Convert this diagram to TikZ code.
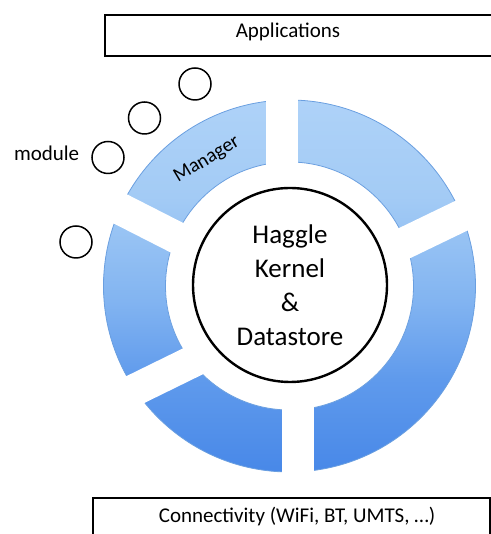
\documentclass[tikz,border=0pt]{standalone}
\usepackage{fontspec}
\setmainfont{Carlito}
\usepackage{xcolor}
\usepackage{tikz}
\usetikzlibrary{positioning}
\definecolor{ringtop}{HTML}{AED2F8}
\definecolor{ringup}{HTML}{A3CBF5}
\definecolor{ringmid}{HTML}{82B4F1}
\definecolor{ringlow}{HTML}{5F9AEC}
\definecolor{ringbot}{HTML}{4888E8}
\definecolor{ringedge}{HTML}{6A9FE0}
\pgfdeclareverticalshading{ringshade}{100bp}{color(0bp)=(ringbot); color(25bp)=(ringbot);
  color(37.5bp)=(ringlow); color(48bp)=(ringmid); color(62bp)=(ringup);
  color(75bp)=(ringtop); color(100bp)=(ringtop)}

\begin{document}
\begin{tikzpicture}[x=0.5pt, y=0.5pt,
  layer/.style={draw, line width=1.2pt, inner sep=0pt, anchor=north west},
  module/.style={draw, circle, line width=0.75pt, minimum size=16pt, inner sep=0pt},
  gap/.style={draw=white, line width=16pt},
  lbl/.style={font=\fontsize{10.5}{12}\selectfont},
]
  \clip (0,0) rectangle (491,534);

  % layers above and below
  \node[layer, minimum width=213pt, minimum height=20.5pt] (apps) at (104,520) {};
  \node[lbl] (appslbl) at (288,502) {Applications};
  \node[layer, minimum width=198.5pt, minimum height=24pt] (conn) at (92,37) {};
  \node[lbl] (connlbl) at (297,17) {Connectivity (WiFi, BT, UMTS, \dots)};

  % manager ring
  \coordinate (c) at (289.5,248);
  \shade[shading=ringshade] (c) circle[radius=186];
  \fill[white] (c) circle[radius=124];
  \draw[ringedge, line width=0.4pt] (c) circle[radius=186] (c) circle[radius=124];
  \draw[gap] (282,444) -- (282,359);
  \draw[gap] (298,139) -- (298,54);
  \draw[gap] (85,343.1) -- (200,284.5);
  \draw[gap] (490,332.1) -- (380,279);
  \draw[gap] (90,122.2) -- (215,183.5);
  \node[font=\fontsize{10}{12}\selectfont, rotate=31] (mgr) at (207,374) {Manager};

  % kernel
  \node[draw, circle, fill=white, line width=1.2pt, minimum size=97pt, align=center,
        font=\fontsize{13.5}{17}\selectfont] (kernel) at (290,249)
        {Haggle\\Kernel\\\&\\Datastore};

  % modules
  \node[module] (m1) at (195,450) {};
  \node[module] (m2) at (144.5,416) {};
  \node[module] (m3) at (108,376.5) {};
  \node[module] (m4) at (76,292) {};
  \node[lbl, left=2.5pt of m3, yshift=2.2pt] (modlbl) {module};
\end{tikzpicture}
\end{document}
